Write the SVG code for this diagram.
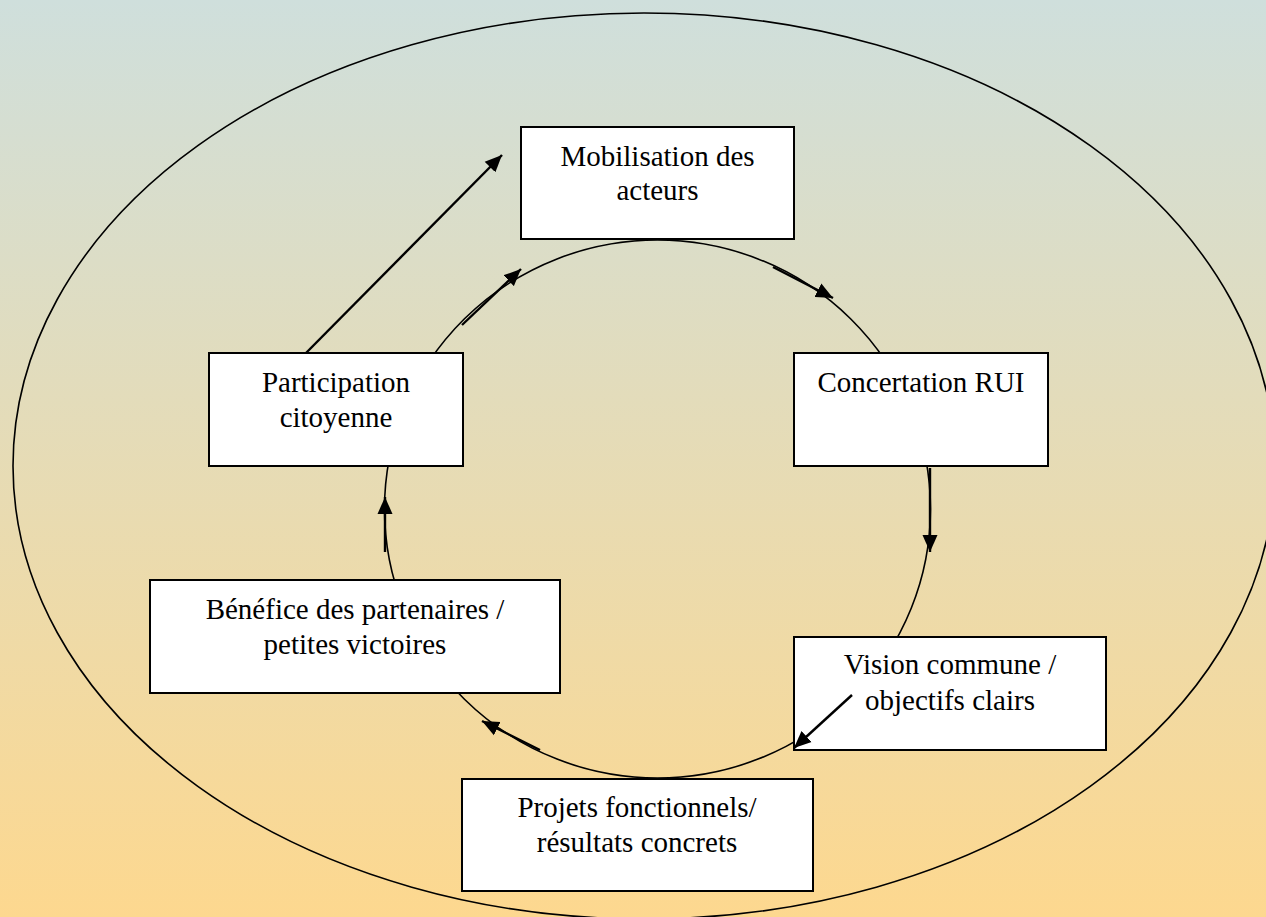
<svg xmlns="http://www.w3.org/2000/svg" width="1266" height="917" viewBox="0 0 1266 917">
<defs>
<linearGradient id="bg" x1="0" y1="0" x2="0" y2="1">
<stop offset="0" stop-color="#cfdfdc"/>
<stop offset="1" stop-color="#fdd88f"/>
</linearGradient>
<marker id="ah" markerUnits="userSpaceOnUse" markerWidth="18" markerHeight="16" refX="17" refY="8" orient="auto">
<path d="M0,0.5 L17,8 L0,15.5 z" fill="#000"/>
</marker>
</defs>
<style>
.box rect{fill:#fff;stroke:#000;stroke-width:2}
.box text{font-family:"Liberation Serif","Times New Roman",serif;font-size:29px;fill:#000;text-anchor:middle}
.ring{fill:none;stroke:#000;stroke-width:1.6}
.arr{stroke:#000;stroke-width:2.4;fill:none;marker-end:url(#ah)}
</style>
<rect x="0" y="0" width="1266" height="917" fill="url(#bg)"/>
<ellipse class="ring" cx="644" cy="466" rx="631" ry="453"/>
<ellipse class="ring" cx="657.5" cy="509" rx="273" ry="269"/>
<g id="connectors">
<line class="arr" x1="306" y1="353" x2="502" y2="155"/>
<line class="arr" x1="462" y1="325" x2="521" y2="269"/>
<line class="arr" x1="773" y1="267" x2="833" y2="298"/>
<line class="arr" x1="930" y1="468" x2="930" y2="552"/>
<line class="arr" x1="540" y1="750" x2="482" y2="721"/>
<line class="arr" x1="385" y1="552" x2="385" y2="497"/>
</g>
<g id="mobilisation" class="box">
<rect x="521" y="127" width="273" height="112"/>
<text x="657.5" y="166">Mobilisation des</text>
<text x="657.5" y="200">acteurs</text>
</g>
<g id="concertation" class="box">
<rect x="794" y="353" width="254" height="113"/>
<text x="921" y="392">Concertation RUI</text>
</g>
<g id="vision" class="box">
<rect x="794" y="637" width="312" height="113"/>
<text x="950" y="674">Vision commune /</text>
<text x="950" y="710">objectifs clairs</text>
</g>
<g id="projets" class="box">
<rect x="462" y="779" width="351" height="112"/>
<text x="637" y="817">Projets fonctionnels/</text>
<text x="637" y="852">résultats concrets</text>
</g>
<g id="benefice" class="box">
<rect x="150" y="580" width="410" height="113"/>
<text x="355" y="619">Bénéfice des partenaires /</text>
<text x="355" y="654">petites victoires</text>
</g>
<g id="participation" class="box">
<rect x="209" y="353" width="254" height="113"/>
<text x="336" y="392">Participation</text>
<text x="336" y="427">citoyenne</text>
</g>
<g id="vision-arrow">
<line class="arr" x1="852" y1="695" x2="794" y2="748"/>
</g>
</svg>
